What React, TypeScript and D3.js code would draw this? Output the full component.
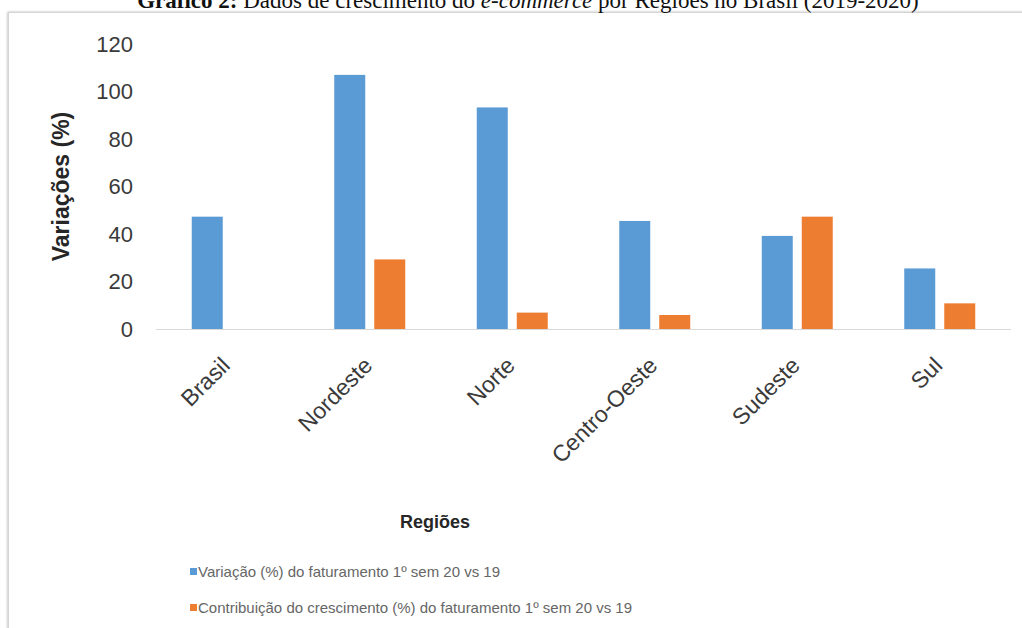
import React from "react";
import * as d3 from "d3";

// Regional e-commerce growth, first half 2020 vs 2019
const regions = ["Brasil", "Nordeste", "Norte", "Centro-Oeste", "Sudeste", "Sul"];
const variacao = [47.3, 107, 93.3, 45.5, 39.2, 25.5];
const contribuicao = [null, 29.3, 6.9, 5.9, 47.3, 10.8];
const yTicks = [0, 20, 40, 60, 80, 100, 120];
const seriesNames = [
  "Variação (%) do faturamento 1º sem 20 vs 19",
  "Contribuição do crescimento (%) do faturamento 1º sem 20 vs 19",
];
const seriesColors = ["#5B9BD5", "#ED7D31"];

const W = 1022;
const H = 628;
const plot = { left: 156, right: 1011, top: 44, bottom: 329 };
const sans = "'Liberation Sans', Arial, sans-serif";
const serif = "'Liberation Serif', 'Times New Roman', serif";

export default function App() {
  const x = d3
    .scaleBand<string>()
    .domain(regions)
    .range([plot.left, plot.right])
    .paddingInner(0)
    .paddingOuter(0);
  // the two bars of a group sit together in the middle of each category
  const groupWidth = 71;
  const inner = d3
    .scaleBand<number>()
    .domain([0, 1])
    .range([(x.bandwidth() - groupWidth) / 2, (x.bandwidth() + groupWidth) / 2])
    .paddingInner(0.225)
    .paddingOuter(0);
  const y = d3.scaleLinear().domain([0, 120]).range([plot.bottom, plot.top]);

  const series = [variacao, contribuicao];

  return (
    <svg
      width={W}
      height={H}
      style={{ position: "absolute", left: 0, top: 0, background: "#fff" }}
    >
      <defs>
        <filter id="frameShadow" x="-5%" y="-5%" width="110%" height="110%">
          <feGaussianBlur stdDeviation="1.2" />
        </filter>
      </defs>

      {/* chart frame */}
      <rect x={8.5} y={13} width={1030} height={640} fill="none" stroke="#c4c4c4" strokeWidth={2.5} filter="url(#frameShadow)" />
      <rect x={8.5} y={12.5} width={1030} height={640} fill="#fff" stroke="#d4d4d4" strokeWidth={1} />

      {/* title (partly above the page edge) */}
      <text x={528} y={8} textAnchor="middle" fontFamily={serif} fontSize={23} fill="#111">
        <tspan fontWeight="bold">Gráfico 2:</tspan>
        <tspan> Dados de crescimento do </tspan>
        <tspan fontStyle="italic">e-commerce</tspan>
        <tspan> por Regiões no Brasil (2019-2020)</tspan>
      </text>

      {/* y tick labels */}
      {yTicks.map((t) => (
        <text
          key={t}
          x={133}
          y={y(t)}
          dy="0.36em"
          textAnchor="end"
          fontFamily={sans}
          fontSize={22}
          fill="#3a3a3a"
        >
          {t}
        </text>
      ))}

      {/* bars */}
      {regions.map((r, i) => (
        <g key={r} transform={`translate(${x(r)},0)`}>
          {series.map((s, k) =>
            s[i] == null ? null : (
              <rect
                key={k}
                x={inner(k)}
                y={y(s[i] as number)}
                width={inner.bandwidth()}
                height={y(0) - y(s[i] as number)}
                fill={seriesColors[k]}
              />
            )
          )}
        </g>
      ))}

      {/* baseline */}
      <line x1={plot.left} x2={plot.right} y1={y(0) + 0.5} y2={y(0) + 0.5} stroke="#d9d9d9" strokeWidth={1} />

      {/* category labels */}
      {regions.map((r) => {
        const cx = (x(r) as number) + x.bandwidth() / 2 + 4;
        const cy = 367;
        return (
          <text
            key={r}
            x={cx}
            y={cy}
            textAnchor="end"
            transform={`rotate(-45 ${cx} ${cy})`}
            fontFamily={sans}
            fontSize={23}
            fill="#3a3a3a"
          >
            {r}
          </text>
        );
      })}

      {/* axis titles */}
      <text
        x={0}
        y={0}
        transform={`translate(69 ${(plot.top + plot.bottom) / 2}) rotate(-90)`}
        textAnchor="middle"
        fontFamily={sans}
        fontSize={23}
        fontWeight="bold"
        fill="#262626"
      >
        Variações (%)
      </text>
      <text x={435} y={528} textAnchor="middle" fontFamily={sans} fontSize={18} fontWeight="bold" fill="#262626">
        Regiões
      </text>

      {/* legend */}
      {seriesNames.map((name, k) => (
        <g key={name} transform={`translate(190 ${572 + k * 36})`}>
          <rect x={0} y={-4} width={7} height={7} fill={seriesColors[k]} />
          <text x={8} y={0} dy="0.36em" fontFamily={sans} fontSize={15} fill="#666">
            {name}
          </text>
        </g>
      ))}
    </svg>
  );
}
